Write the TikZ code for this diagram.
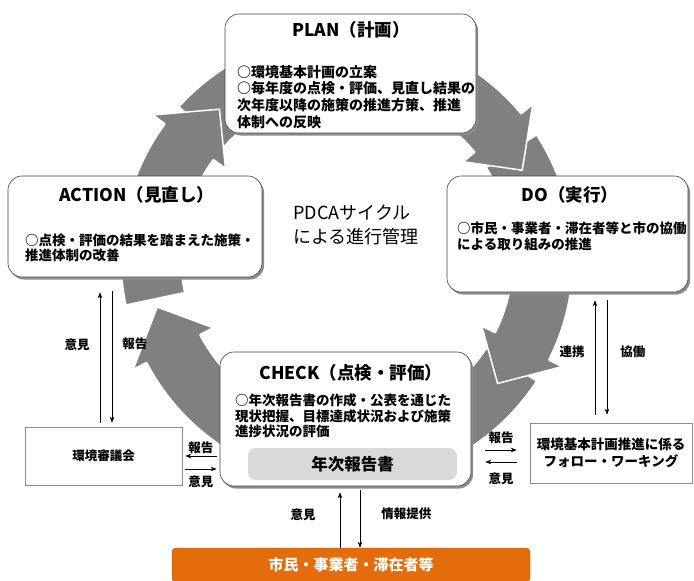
\documentclass[tikz,border=0pt]{standalone}
\usepackage{fontspec}
\setmainfont{Noto Sans CJK JP}
\usetikzlibrary{positioning,shadows,arrows.meta}
\definecolor{ringgray}{RGB}{128,128,128}
\definecolor{reportgray}{RGB}{217,217,217}
\definecolor{citizenorange}{RGB}{228,108,10}

\begin{document}
\begin{tikzpicture}[x=1pt, y=1pt, >={Stealth[length=6pt, width=4.5pt]}]

    \tikzset{%
    every phase/.style={
        rounded corners=14pt,
        draw=black!75,
        line width=0.6pt,
        fill=white,
        drop shadow={shadow xshift=2pt, shadow yshift=-2.5pt, fill=black!45, opacity=1}
        },
    phase title/.style={font=\bfseries\fontsize{17.5}{20}\selectfont, inner sep=0pt},
    phase text/.style={font=\bfseries\fontsize{13.5}{15.5}\selectfont, align=left, anchor=north west, inner sep=0pt},
    side box/.style={draw=black!45, line width=0.5pt, fill=white, align=center},
    flow label/.style={font=\bfseries\fontsize{12.5}{14}\selectfont, inner sep=2pt},
    flow/.style={->, line width=0.6pt},
    ring part/.style={fill=ringgray, draw=white, line width=1.5pt},
    }

    \useasboundingbox (0,0) rectangle (694,-581);

    % Cycle arrows: the four shafts first
    \begin{scope}[shift={(347,-258)}]
    \foreach \s/\t in {192/130.6, 138/26.6, 33/-39.8, -33/-165.5}
    {
      \pgfmathsetmacro\e{\t+11}
      \filldraw[ring part] (\s:226) arc[start angle=\s, end angle=\e, radius=226]
        -- (\e:166) arc[start angle=\e, end angle=\s, radius=166] -- cycle;
    }
    % and the heads on top of them
    \foreach \t in {130.6, 26.6, -39.8, -165.5}
    {
      \pgfmathsetmacro\b{\t+13}
      \filldraw[ring part] (\b:226) -- (\b:241) -- (\t:196) -- (\b:151) -- (\b:166);
    }
    \end{scope}

    % Phase boxes
    \node[every phase, minimum width=251pt, minimum height=119pt] (phase-plan) at (350.5,-73.5) {};
    \node[every phase, minimum width=254pt, minimum height=101pt] (phase-action) at (135,-226.5) {};
    \node[every phase, minimum width=241pt, minimum height=116pt] (phase-do) at (567.5,-234) {};
    \node[every phase, minimum width=251pt, minimum height=134pt] (phase-check) at (345.5,-419) {};

    % Titles
    \node[phase title] (title-plan) at (351,-30) {PLAN（計画）};
    \node[phase title] (title-action) at (137,-195) {ACTION（見直し）};
    \node[phase title] (title-do) at (570,-195) {DO（実行）};
    \node[phase title] (title-check) at (351,-373) {CHECK（点検・評価）};

    % Contents
    \node[phase text, font=\bfseries\fontsize{14}{16.7}\selectfont] (text-plan) at (237,-65)
      {○環境基本計画の立案\\○毎年度の点検・評価、見直し結果の\\次年度以降の施策の推進方策、推進\\体制への反映};
    \node[phase text, font=\bfseries\fontsize{13.5}{14.5}\selectfont] (text-action) at (25,-234)
      {○点検・評価の結果を踏まえた施策・\\推進体制の改善};
    \node[phase text] (text-do) at (457,-222)
      {○市民・事業者・滞在者等と市の協働\\による取り組みの推進};
    \node[phase text] (text-check) at (235,-394)
      {○年次報告書の作成・公表を通じた\\現状把握、目標達成状況および施策\\進捗状況の評価};

    \node[rounded corners=8pt, fill=reportgray, minimum width=209pt, minimum height=32pt,
      font=\bfseries\fontsize{16.5}{18}\selectfont] (report) at (352.5,-464) {年次報告書};

    % Centre of the cycle
    \node[align=left, font=\fontsize{18}{24}\selectfont] (pdca) at (356,-225) {PDCAサイクル\\による進行管理};

    % Outside bodies
    \node[side box, minimum width=157pt, minimum height=58pt, font=\bfseries\fontsize{12.5}{15}\selectfont] (council) at (103.5,-456) {環境審議会};
    \node[side box, minimum width=162pt, minimum height=60pt, font=\bfseries\fontsize{13.5}{17}\selectfont] (followup) at (611,-453)
      {環境基本計画推進に係る\\フォロー・ワーキング};
    \node[rounded corners=4pt, fill=citizenorange, draw=citizenorange!80!black, minimum width=358pt, minimum height=34pt,
      text=white, font=\bfseries\fontsize{15}{17}\selectfont] (citizens) at (351,-565) {市民・事業者・滞在者等};

    % Council <-> ACTION
    \draw[flow] ([xshift=-3.5pt,yshift=4pt]council.north) -- ([xshift=-3.5pt,yshift=-15pt]council.north |- phase-action.south)
      node[flow label, pos=0.6, left=8pt] (lbl-council-up) {意見};
    \draw[flow] ([xshift=8.5pt,yshift=-14pt]council.north |- phase-action.south) -- ([xshift=8.5pt,yshift=4pt]council.north)
      node[flow label, pos=0.4, right=8pt] (lbl-council-down) {報告};

    % Follow-up group <-> DO
    \draw[flow] ([xshift=-16pt,yshift=8pt]followup.north) -- ([xshift=-16pt,yshift=-8pt]followup.north |- phase-do.south)
      node[flow label, pos=0.55, left=8pt] (lbl-do-up) {連携};
    \draw[flow] ([xshift=-4pt,yshift=-8pt]followup.north |- phase-do.south) -- ([xshift=-4pt,yshift=8pt]followup.north)
      node[flow label, pos=0.45, right=11pt] (lbl-do-down) {協働};

    % CHECK <-> council
    \draw[flow] ([xshift=-3pt]phase-check.west |- council.east) -- ([xshift=3pt]council.east)
      node[flow label, midway, above] (lbl-check-left) {報告};
    \draw[flow] ([xshift=3pt,yshift=-13pt]council.east) -- ([xshift=-3pt,yshift=-13pt]phase-check.west |- council.east)
      node[flow label, midway, below=5pt] (lbl-council-right) {意見};

    % CHECK <-> follow-up group
    \draw[flow] ([xshift=14pt,yshift=3pt]phase-check.east |- followup.west) -- ([xshift=-13pt,yshift=3pt]followup.west)
      node[flow label, midway, above=4pt] (lbl-check-right) {報告};
    \draw[flow] ([xshift=-13pt,yshift=-9pt]followup.west) -- ([xshift=14pt,yshift=-9pt]phase-check.east |- followup.west)
      node[flow label, midway, below=9pt] (lbl-followup-left) {意見};

    % CHECK <-> citizens
    \draw[flow] ([xshift=-11pt]citizens.north) -- ([xshift=-11pt,yshift=-6pt]citizens.north |- phase-check.south)
      node[flow label, pos=0.6, left=22pt] (lbl-citizens-up) {意見};
    \draw[flow] ([xshift=9pt,yshift=-4pt]citizens.north |- phase-check.south) -- ([xshift=9pt]citizens.north)
      node[flow label, pos=0.41, right=19pt] (lbl-citizens-down) {情報提供};

\end{tikzpicture}
\end{document}
